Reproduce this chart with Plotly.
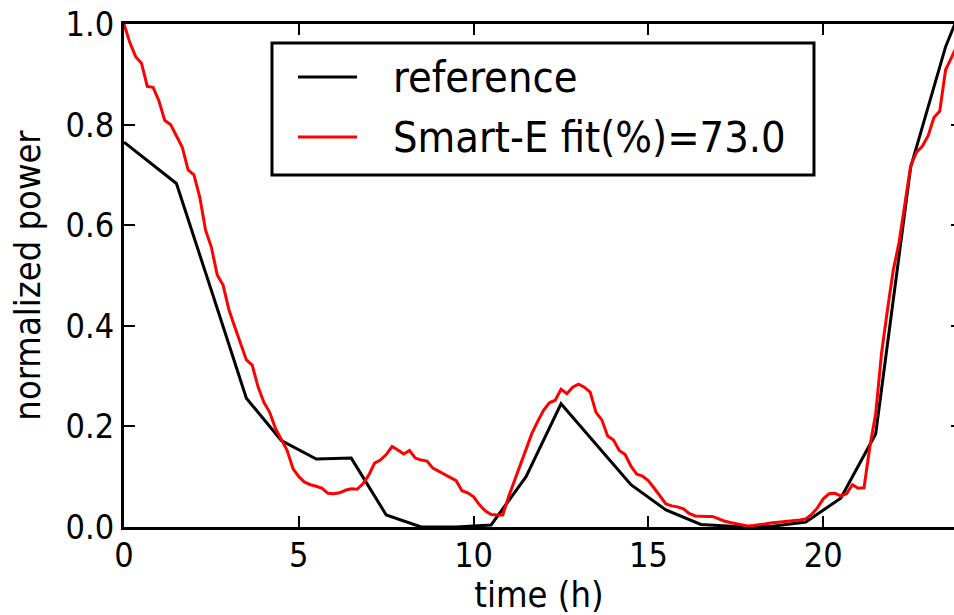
import plotly.graph_objects as go

# ---- data ----
ref_time_h = [0, 0.5, 1.5, 2.5, 3.5, 4.5, 5.5, 6.5, 7.5, 8.5, 9.5, 10.5, 11.5,
              12.5, 13.5, 14.5, 15.5, 16.5, 17.5, 18.5, 19.5, 20.5, 21.5,
              22.5, 23.5, 24.0]
ref_power = [0.765, 0.738, 0.683, 0.470, 0.256, 0.172, 0.135, 0.137, 0.024,
             0.000, 0.000, 0.004, 0.100, 0.245, 0.164, 0.084, 0.034, 0.005,
             0.001, 0.001, 0.010, 0.057, 0.185, 0.715, 0.955, 1.040]

red_time_h = [i / 6 for i in range(144)]  # 10-minute sampling grid
smart_power = [
    1.000, 0.963, 0.935, 0.922, 0.876, 0.874, 0.847, 0.808, 0.800, 0.778,
    0.755, 0.710, 0.700, 0.656, 0.590, 0.556, 0.501, 0.481, 0.432, 0.398,
    0.365, 0.332, 0.322, 0.279, 0.248, 0.228, 0.196, 0.174, 0.152, 0.116,
    0.100, 0.089, 0.084, 0.081, 0.077, 0.067, 0.066, 0.068, 0.073, 0.076,
    0.075, 0.086, 0.103, 0.127, 0.133, 0.144, 0.160, 0.153, 0.145, 0.152,
    0.137, 0.133, 0.131, 0.117, 0.111, 0.104, 0.098, 0.092, 0.072, 0.068,
    0.060, 0.044, 0.032, 0.025, 0.024, 0.024, 0.060, 0.092, 0.126, 0.158,
    0.186, 0.210, 0.232, 0.247, 0.252, 0.274, 0.265, 0.278, 0.284, 0.278,
    0.268, 0.228, 0.213, 0.181, 0.173, 0.152, 0.144, 0.121, 0.105, 0.101,
    0.092, 0.077, 0.062, 0.046, 0.042, 0.040, 0.036, 0.027, 0.022, 0.021,
    0.021, 0.021, 0.016, 0.012, 0.009, 0.007, 0.004, 0.002, 0.003, 0.004,
    0.006, 0.008, 0.009, 0.010, 0.011, 0.013, 0.014, 0.016, 0.025, 0.038,
    0.056, 0.066, 0.067, 0.062, 0.066, 0.084, 0.077, 0.078, 0.160, 0.225,
    0.345, 0.430, 0.510, 0.565, 0.645, 0.718, 0.745, 0.757, 0.778, 0.814,
    0.827, 0.909, 0.933, 0.958,
]

x_ticks = [0, 5, 10, 15, 20]
y_ticks = [0.0, 0.2, 0.4, 0.6, 0.8, 1.0]
legend_labels = ["reference", "Smart-E fit(%)=73.0"]

FONT = "DejaVu Sans Condensed, DejaVu Sans, sans-serif"

fig = go.Figure()
fig.add_trace(go.Scatter(x=ref_time_h, y=ref_power, mode="lines",
                         name=legend_labels[0],
                         line=dict(color="#000000", width=3)))
fig.add_trace(go.Scatter(x=red_time_h, y=smart_power, mode="lines",
                         name=legend_labels[1],
                         line=dict(color="#ff0000", width=3)))
# invisible trace to carry right-side tick stubs
fig.add_trace(go.Scatter(x=[None], y=[None], yaxis="y2", showlegend=False,
                         hoverinfo="skip"))

fig.update_layout(
    width=954, height=615,
    margin=dict(l=124, r=0, t=24, b=88),
    paper_bgcolor="white", plot_bgcolor="white",
    showlegend=False,
    font=dict(family=FONT, size=34, color="black"),
    xaxis=dict(range=[0, 23.74], tickvals=x_ticks, ticks="inside",
               ticklen=11, tickwidth=1.5, tickcolor="black",
               showline=True, linewidth=3, linecolor="black", mirror="ticks",
               showgrid=False, zeroline=False, ticklabelstandoff=-4,
               tickfont=dict(size=34),
               title=dict(text="time (h)", font=dict(size=36), standoff=15)),
    yaxis=dict(range=[0, 1], tickvals=y_ticks, tickformat=".1f",
               ticks="inside", ticklen=11, tickwidth=1.5, tickcolor="black",
               showline=True, linewidth=3, linecolor="black", mirror=False,
               showgrid=False, zeroline=False,
               tickfont=dict(size=34),
               title=dict(text="normalized power", font=dict(size=36),
                          standoff=14)),
    yaxis2=dict(range=[0, 1], tickvals=y_ticks, overlaying="y", side="right",
                ticks="inside", ticklen=3, tickwidth=1.5, tickcolor="black",
                showticklabels=False, showline=False, showgrid=False,
                zeroline=False),
)

# legend box (drawn manually to match the matplotlib legend geometry)
fig.add_shape(type="rect", xref="paper", yref="paper",
              x0=0.1783, x1=0.8313, y0=0.6998, y1=0.9622,
              line=dict(color="black", width=3), fillcolor="white", layer="above")
colors = ["#000000", "#ff0000"]
rows_y = [0.8946, 0.7753]
for lab, col, yy in zip(legend_labels, colors, rows_y):
    fig.add_shape(type="line", xref="paper", yref="paper",
                  x0=0.2096, x1=0.2807, y0=yy, y1=yy,
                  line=dict(color=col, width=3), layer="above")
    fig.add_annotation(xref="paper", yref="paper", x=0.322, y=yy,
                       xanchor="left", yanchor="middle", text=lab,
                       showarrow=False, font=dict(size=43, family=FONT))

fig.write_html(
    "out.html",
    config={"displayModeBar": False},
    post_script="document.body.style.margin='0';"
                "document.body.style.overflow='hidden';",
)
